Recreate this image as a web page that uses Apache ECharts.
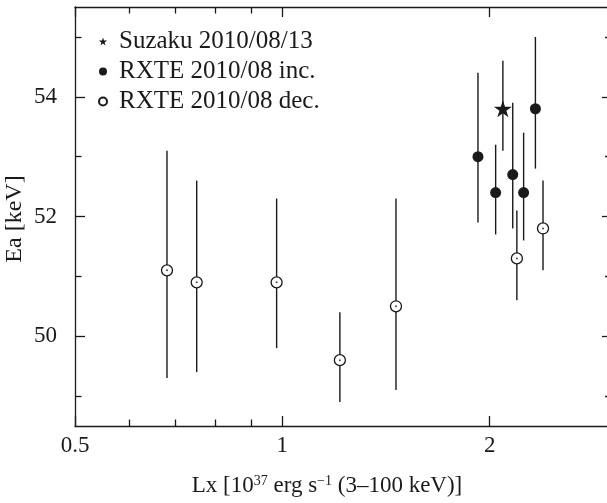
<!DOCTYPE html>
<html>
<head>
<meta charset="utf-8">
<script src="https://cdn.jsdelivr.net/npm/echarts@6/dist/echarts.min.js"></script>
<style>html,body{margin:0;padding:0;background:#fff;overflow:hidden;}#c{width:607px;height:503px;}</style>
</head>
<body>
<div id="c"></div>
<script>
const xMajorTicks = [0.5, 1, 2];
const xMinorTicks = [0.6, 0.7, 0.8, 0.9];
const yMajorTicks = [50, 52, 54];
const yMinorTicks = [49, 51, 53, 55];

const suzakuX = [2.09];
const suzakuY = [53.8];
const suzakuLo = [53.1];
const suzakuHi = [54.6];

const incX = [1.923, 2.04, 2.16, 2.24, 2.33];
const incY = [53.0, 52.4, 52.7, 52.4, 53.8];
const incLo = [51.9, 51.7, 51.8, 51.6, 52.8];
const incHi = [54.4, 53.2, 53.9, 53.4, 55.0];

const decX = [0.680, 0.751, 0.981, 1.212, 1.462, 2.19, 2.39];
const decY = [51.1, 50.9, 50.9, 49.6, 50.5, 51.3, 51.8];
const decLo = [49.3, 49.4, 49.8, 48.9, 49.1, 50.6, 51.1];
const decHi = [53.1, 52.6, 52.3, 50.4, 52.3, 52.1, 52.6];

const names = ['Suzaku 2010/08/13', 'RXTE 2010/08 inc.', 'RXTE 2010/08 dec.'];

const FONT = 'Liberation Serif';
const INK = '#1a1a1a';
const STAR = 'path://M0,-10 L2.245,-3.09 L9.511,-3.09 L3.633,1.18 L5.878,8.09 L0,3.82 L-5.878,8.09 L-3.633,1.18 L-9.511,-3.09 L-2.245,-3.09 Z';

function pts(xs, ys) { return xs.map((x, i) => [x, ys[i]]); }
function errs(xs, lo, hi) { return xs.map((x, i) => [x, lo[i], hi[i]]); }

function errSeries(data) {
  return {
    type: 'custom', xAxisIndex: 0, yAxisIndex: 0, silent: true, z: 2,
    data: data, encode: { x: 0, y: [1, 2] },
    renderItem: function (params, api) {
      const p1 = api.coord([api.value(0), api.value(1)]);
      const p2 = api.coord([api.value(0), api.value(2)]);
      return { type: 'line', shape: { x1: p1[0], y1: p1[1], x2: p2[0], y2: p2[1] },
        style: { stroke: INK, lineWidth: 1.4 } };
    }
  };
}

function xAx(pos, ticks, len, showLine, showLabel) {
  return {
    type: 'log', logBase: 10, min: 0.5, max: 2.96, position: pos,
    axisLine: { show: showLine, lineStyle: { color: INK, width: 1.3 } },
    axisTick: { show: true, inside: true, length: len, customValues: ticks, lineStyle: { color: INK, width: 1.3 } },
    axisLabel: showLabel ? { show: true, customValues: ticks, margin: 8, fontFamily: FONT, fontSize: 23, color: INK,
      formatter: function (v) { return String(+(+v).toPrecision(3)); } } : { show: false },
    splitLine: { show: false }, minorSplitLine: { show: false }
  };
}
function yAx(pos, ticks, len, showLine, showLabel) {
  return {
    type: 'value', min: 48.5, max: 55.5, position: pos,
    axisLine: { show: showLine, lineStyle: { color: INK, width: 1.3 } },
    axisTick: { show: true, inside: true, length: len, customValues: ticks, lineStyle: { color: INK, width: 1.3 } },
    axisLabel: showLabel ? { show: true, customValues: ticks, margin: 18, fontFamily: FONT, fontSize: 23, color: INK } : { show: false },
    splitLine: { show: false }, minorSplitLine: { show: false }
  };
}

const option = {
  backgroundColor: '#fff',
  animation: false,
  grid: { left: 75, top: 7, width: 532, height: 419, containLabel: false },
  xAxis: [
    xAx('bottom', xMajorTicks, 10, true, true),
    xAx('bottom', xMinorTicks, 6.5, false, false),
    xAx('top', xMajorTicks, 10, true, false),
    xAx('top', xMinorTicks, 6.5, false, false)
  ],
  yAxis: [
    yAx('left', yMajorTicks, 10, true, true),
    yAx('left', yMinorTicks, 6.5, false, false),
    yAx('right', yMajorTicks, 5, false, false),
    yAx('right', yMinorTicks, 2, false, false)
  ],
  legend: {
    orient: 'vertical', left: 93, top: 24,
    itemWidth: 22, itemHeight: 8, itemGap: 5,
    textStyle: { fontFamily: FONT, fontSize: 25, lineHeight: 25, color: INK },
    data: [
      { name: names[0], icon: STAR },
      { name: names[1], icon: 'circle' },
      { name: names[2], icon: 'circle' }
    ]
  },
  graphic: [
    { type: 'text', x: 327, y: 486,
      style: { text: 'Lx [10{s|37} erg s{s|−1} (3–100 keV)]', textAlign: 'center', textVerticalAlign: 'middle',
        font: '23px "Liberation Serif"', fill: INK,
        rich: { s: { fontSize: 14, fontFamily: FONT, verticalAlign: 'top', lineHeight: 23, fill: INK } } } },
    { type: 'text', x: 15, y: 219, rotation: Math.PI / 2,
      style: { text: 'Ea [keV]', textAlign: 'center', textVerticalAlign: 'middle',
        font: '24px "Liberation Serif"', fill: INK } }
  ],
  series: [
    errSeries(errs(decX, decLo, decHi)),
    errSeries(errs(incX, incLo, incHi)),
    errSeries(errs(suzakuX, suzakuLo, suzakuHi)),
    { name: names[2], type: 'scatter', z: 3, data: pts(decX, decY), symbol: 'circle', symbolSize: 11,
      itemStyle: { color: '#fff', borderColor: INK, borderWidth: 1.3, opacity: 1 } },
    { type: 'scatter', z: 4, silent: true, data: pts(decX, decY), symbol: 'circle', symbolSize: 2,
      itemStyle: { color: INK } },
    { name: names[1], type: 'scatter', z: 3, data: pts(incX, incY), symbol: 'circle', symbolSize: 11,
      itemStyle: { color: INK, opacity: 1 } },
    { name: names[0], type: 'scatter', z: 3, data: pts(suzakuX, suzakuY), symbol: STAR, symbolSize: [18, 17],
      itemStyle: { color: INK, opacity: 1 } }
  ]
};

const chart = echarts.init(document.getElementById('c'), null, { renderer: 'canvas' });
chart.setOption(option);
</script>
</body>
</html>
